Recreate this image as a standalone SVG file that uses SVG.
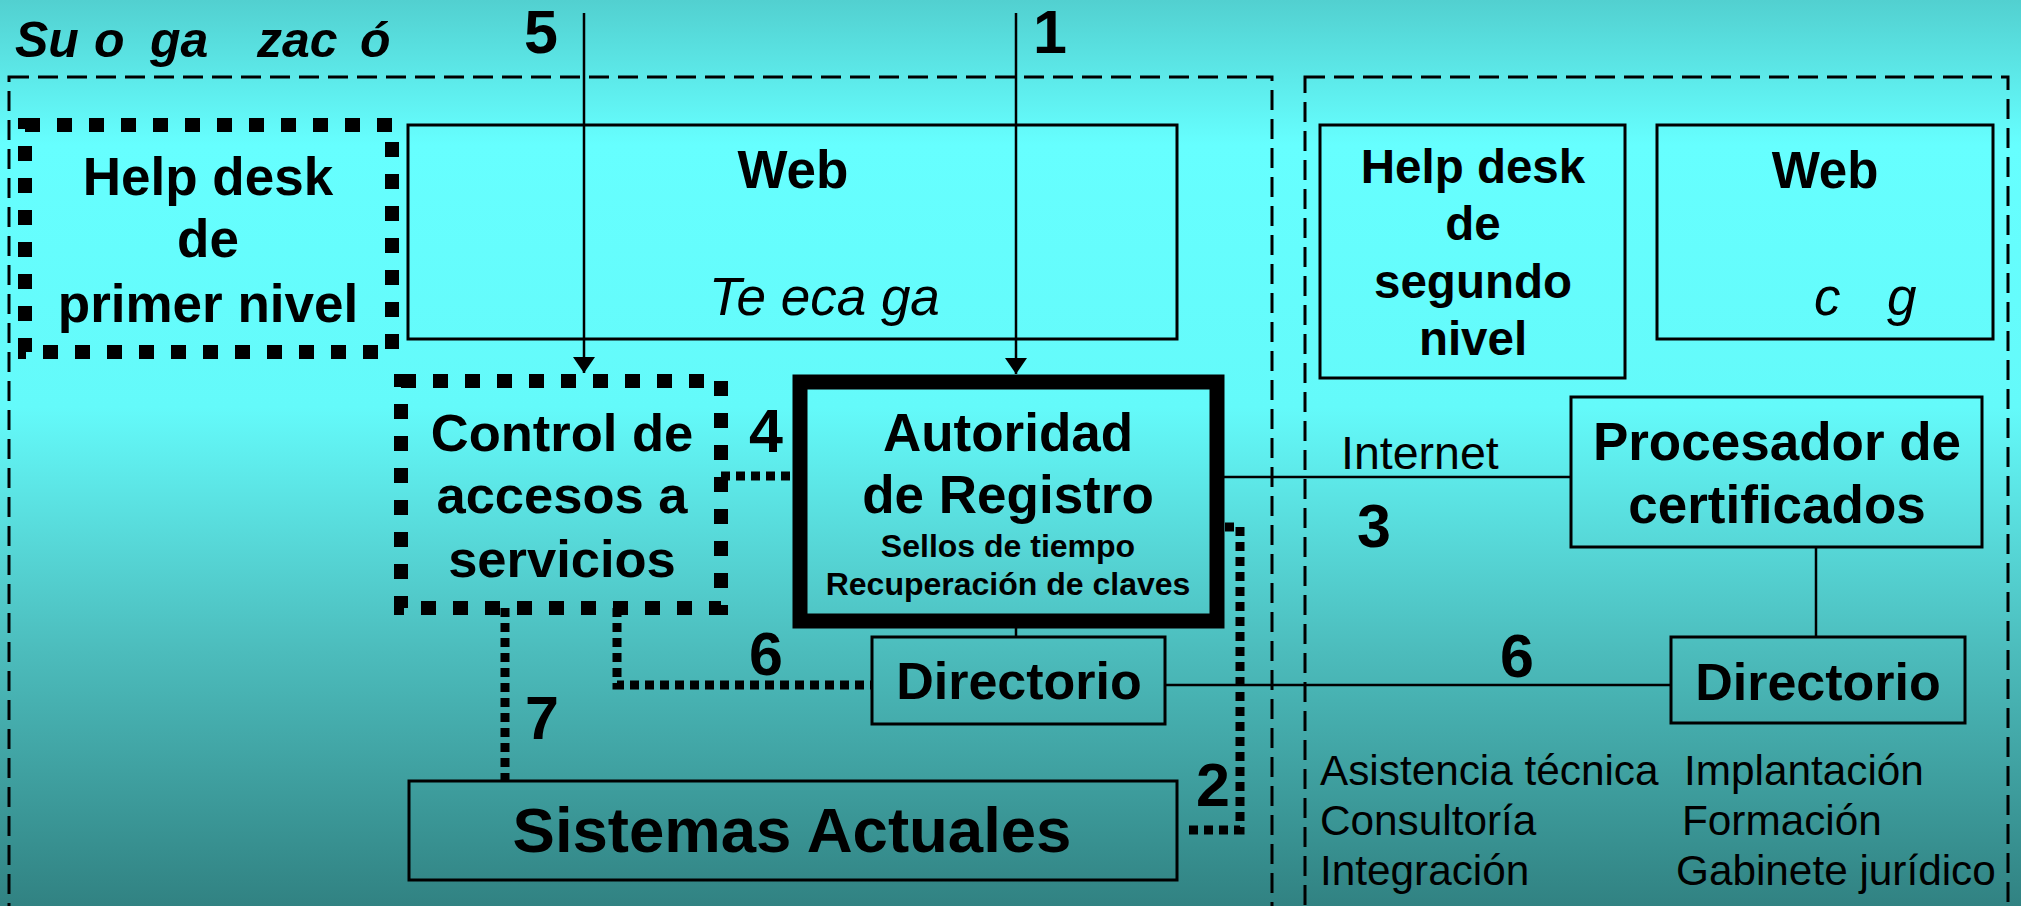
<svg xmlns="http://www.w3.org/2000/svg" width="2021" height="906" viewBox="0 0 2021 906">
<defs>
<linearGradient id="bg" x1="0" y1="0" x2="0" y2="1">
<stop offset="0" stop-color="#52d0d0"/>
<stop offset="0.16" stop-color="#66ffff"/>
<stop offset="0.45" stop-color="#64fafa"/>
<stop offset="0.72" stop-color="#4cbcbc"/>
<stop offset="1" stop-color="#318282"/>
</linearGradient>
<marker id="ah" viewBox="0 0 16 22" refX="16" refY="11" markerUnits="userSpaceOnUse" markerWidth="16" markerHeight="22" orient="auto">
<path d="M0,0 L16,11 L0,22 z" fill="#000"/>
</marker>
<style>
.box{fill:none;stroke:#000;stroke-width:3}
.dotbox{fill:none;stroke:#000;stroke-width:14;stroke-dasharray:15 17}
.dotline{fill:none;stroke:#000;stroke-width:9;stroke-dasharray:9 6}
.dash{fill:none;stroke:#000;stroke-width:3;stroke-dasharray:20 9}
.line{fill:none;stroke:#000;stroke-width:2.5}
.t{font-family:"Liberation Sans",Arial,sans-serif;fill:#000}
.b{font-weight:bold}
.i{font-style:italic}
.c{text-anchor:middle}
.num{font-family:"Liberation Sans",Arial,sans-serif;font-weight:bold;font-size:61px;text-anchor:middle}
</style>
</defs>
<rect x="0" y="0" width="2021" height="906" fill="url(#bg)"/>

<g id="title">
<text class="t b i" font-size="50" y="57"><tspan x="15">Su</tspan><tspan x="94">o</tspan><tspan x="150">ga</tspan><tspan x="257">zac</tspan><tspan x="360">ó</tspan></text>
</g>

<g id="org-left">
<rect class="dash" x="9" y="77" width="1263" height="900"/>
</g>
<g id="org-right">
<rect class="dash" x="1305" y="77" width="703" height="900"/>
</g>

<g id="connectors">
<path class="line" d="M584 13 V373" marker-end="url(#ah)"/>
<path class="line" d="M1016 13 V374" marker-end="url(#ah)"/>
<path class="line" d="M1217 477 H1571"/>
<path class="dotline" d="M721 476 H792"/>
<path class="dotline" d="M1225 527 H1240 V830 H1184"/>
<path class="dotline" d="M617 608 V685 H872"/>
<path class="dotline" d="M505 608 V781"/>
<path class="line" d="M1016 621 V637"/>
<path class="line" d="M1816 547 V637"/>
<path class="line" d="M1165 685 H1671"/>
<text class="num" x="541" y="53">5</text>
<text class="num" x="1050" y="53">1</text>
<text class="num" x="766" y="452">4</text>
<text class="num" x="766" y="675">6</text>
<text class="num" x="542" y="739">7</text>
<text class="num" x="1213" y="806">2</text>
<text class="num" x="1374" y="547">3</text>
<text class="num" x="1517" y="677">6</text>
<text class="t" font-size="46.5" x="1341" y="469">Internet</text>
</g>

<g id="helpdesk1">
<rect class="dotbox" x="25" y="125" width="367" height="227"/>
<text class="t b c" font-size="53"><tspan x="208" y="195">Help desk</tspan><tspan x="208" y="257">de</tspan><tspan x="208" y="322">primer nivel</tspan></text>
</g>

<g id="web1">
<rect class="box" x="408" y="125" width="769" height="214"/>
<text class="t b c" font-size="53" x="793" y="188">Web</text>
<text class="t i" font-size="53" x="709" y="315">Te eca ga</text>
</g>

<g id="control">
<rect class="dotbox" x="401" y="381" width="320" height="227"/>
<text class="t b c" font-size="52.5"><tspan x="562" y="451">Control de</tspan><tspan x="562" y="513">accesos a</tspan><tspan x="562" y="577">servicios</tspan></text>
</g>

<g id="autoridad">
<rect fill="none" stroke="#000" stroke-width="15" x="800" y="382" width="417" height="239"/>
<text class="t b c" font-size="53"><tspan x="1008" y="451">Autoridad</tspan><tspan x="1008" y="513">de Registro</tspan></text>
<text class="t b c" font-size="32"><tspan x="1008" y="557">Sellos de tiempo</tspan><tspan x="1008" y="595">Recuperación de claves</tspan></text>
</g>

<g id="directorio1">
<rect class="box" x="872" y="637" width="293" height="87"/>
<text class="t b c" font-size="52" x="1019" y="699">Directorio</text>
</g>

<g id="sistemas">
<rect class="box" x="409" y="781" width="768" height="99"/>
<text class="t b c" font-size="63.5" x="792" y="852">Sistemas Actuales</text>
</g>

<g id="helpdesk2">
<rect class="box" x="1320" y="125" width="305" height="253"/>
<text class="t b c" font-size="47.5"><tspan x="1473" y="183">Help desk</tspan><tspan x="1473" y="240">de</tspan><tspan x="1473" y="298">segundo</tspan><tspan x="1473" y="355">nivel</tspan></text>
</g>

<g id="web2">
<rect class="box" x="1657" y="125" width="336" height="214"/>
<text class="t b c" font-size="51" x="1825" y="188">Web</text>
<text class="t i" font-size="53" y="315"><tspan x="1814">c</tspan><tspan x="1887">g</tspan></text>
</g>

<g id="procesador">
<rect class="box" x="1571" y="397" width="411" height="150"/>
<text class="t b c" font-size="53"><tspan x="1777" y="460">Procesador de</tspan><tspan x="1777" y="523">certificados</tspan></text>
</g>

<g id="directorio2">
<rect class="box" x="1671" y="637" width="294" height="86"/>
<text class="t b c" font-size="52" x="1818" y="700">Directorio</text>
</g>

<g id="services">
<text class="t" font-size="42.3"><tspan x="1320" y="785">Asistencia técnica</tspan><tspan x="1320" y="835">Consultoría</tspan><tspan x="1320" y="885">Integración</tspan></text>
<text class="t" font-size="42.3"><tspan x="1684" y="785">Implantación</tspan><tspan x="1682" y="835">Formación</tspan><tspan x="1676" y="885">Gabinete jurídico</tspan></text>
</g>
</svg>
